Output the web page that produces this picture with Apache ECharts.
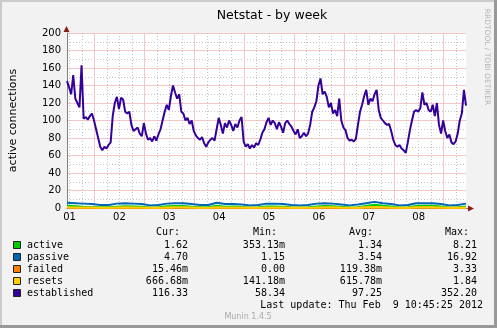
<!DOCTYPE html>
<html><head><meta charset="utf-8">
<script src="https://cdn.jsdelivr.net/npm/echarts@6/dist/echarts.min.js"></script>
<style>html,body{margin:0;padding:0;background:#f2f2f2}#c{width:497px;height:328px}</style>
</head><body><div id="c"></div>
<script>
// ---- data ----
const startMinute = 645;          // Feb 1 10:45
const stepMinutes = 15;           // category resolution
const nCats = 769;                // 8 days of 15-minute slots
const dayLabels = ['01','02','03','04','05','06','07','08'];
const yTickValues = [0,20,40,60,80,100,120,140,160,180,200];

// established: hourly samples from Feb 1 10:45
const established = [145,138,130,152,125,120,115,163,102,104,
 101,105,108,100,90,80,70,66,70,68,
 72,75,105,120,127,113,126,124,110,108,
 110,95,88,90,92,85,82,97,85,78,
 80,76,82,77,84,90,100,110,118,112,
 128,140,132,125,130,110,108,100,103,96,
 100,88,83,80,78,81,74,70,75,78,
 80,77,90,103,95,85,97,92,100,95,
 88,96,92,100,104,76,70,73,68,72,
 69,74,72,78,86,90,98,103,95,100,
 97,90,98,93,86,97,100,96,93,88,
 84,90,80,82,86,82,85,95,110,115,
 122,140,148,130,133,127,115,120,108,112,
 105,125,100,92,89,80,77,78,76,79,
 95,110,118,128,135,118,125,122,130,135,
 112,103,100,97,95,96,88,78,72,70,
 72,68,66,63,75,89,100,110,112,110,
 114,132,118,120,112,110,118,105,120,95,
 85,100,88,80,84,75,73,76,85,100,
 108,135,117];
// small series: 4-hourly samples from Feb 1 10:45
const passive = [6,5.5,5,4.5,3.5,3.5,5,5.5,5,4.5,3,3.5,5,5.5,5.5,4.5,3.5,3.5,6,4.5,4.5,4,3,3.5,5,5,4.5,3.5,3,3.5,5,5.5,5,4,3,4,5.5,7,5.5,4.5,3,3.5,5.5,5.5,5.5,4.5,3,3.5,5];
const active = [2.5,2,1.5,1.2,0.8,0.8,1.5,2,1.8,1.5,0.7,0.9,2,2.3,2.2,1.5,0.8,0.8,2.5,1.5,1.6,1.2,0.7,0.8,1.8,1.8,1.5,0.8,0.6,0.8,1.8,2.2,2,1.3,0.7,1,2.4,3.8,2.5,1.6,0.7,0.9,2.3,2.5,2.6,1.6,0.7,0.9,1.6];
const resets = [0.8,0.7,0.6,0.5,0.3,0.3,0.6,0.8,0.7,0.6,0.3,0.4,0.7,0.9,0.8,0.6,0.3,0.3,0.9,0.6,0.6,0.5,0.3,0.3,0.7,0.7,0.6,0.3,0.2,0.3,0.7,0.9,0.8,0.5,0.3,0.4,0.9,1.2,0.9,0.6,0.3,0.4,0.8,0.9,0.9,0.6,0.3,0.4,0.7];
const failed = [0.2,0.1,0.1,0.05,0,0,0.1,0.2,0.1,0.1,0,0,0.1,0.2,0.2,0.1,0,0,0.3,0.1,0.1,0.1,0,0,0.1,0.1,0.1,0,0,0,0.1,0.2,0.1,0.1,0,0,0.2,0.3,0.2,0.1,0,0,0.2,0.2,0.2,0.1,0,0,0.02];

const legendNames = ['active','passive','failed','resets','established'];
const legendColors = ['#00CC00','#0066B3','#FF8000','#FFCC00','#330099'];
const curVals = ['1.62','4.70','15.46m','666.68m','116.33'];
const minVals = ['353.13m','1.15','0.00','141.18m','58.34'];
const avgVals = ['1.34','3.54','119.38m','615.78m','97.25'];
const maxVals = ['8.21','16.92','3.33','1.84','352.20'];
const lastUpdate = 'Last update: Thu Feb  9 10:45:25 2012';

// ---- build ----
const cats = [];
for (let k = 0; k < nCats; k++) {
  const m = startMinute + k * stepMinutes;
  const d = Math.floor(m / 1440) + 1, hh = Math.floor((m % 1440) / 60), mm = m % 60;
  cats.push('Feb ' + d + ' ' + String(hh).padStart(2,'0') + ':' + String(mm).padStart(2,'0'));
}
const minuteOf = k => startMinute + k * stepMinutes;
const hourly = arr => arr.map((v, i) => [i * 4, v]);
const fourHourly = arr => arr.map((v, i) => [i * 16, v]);

const G = {left: 66, right: 31, top: 33, bottom: 120};
const W = 497, H = 328;
const px0 = G.left, px1 = W - G.right, py0 = G.top, py1 = H - G.bottom;

const chart = echarts.init(document.getElementById('c'), null, {renderer: 'canvas'});
const mono = '"DejaVu Sans Mono", monospace';
const sans = '"DejaVu Sans", sans-serif';
const gridGrey = '#c4c4c4';
const gridRed = '#f4c8c8';

function txt(text, x, y, align, opts) {
  opts = opts || {};
  return {type: 'text', x: x, y: y, rotation: opts.rotation || 0, z: 100,
    style: {text: text, font: opts.font || ('10px ' + mono), fill: opts.fill || '#000',
      align: align, verticalAlign: 'middle', textAlign: align, textVerticalAlign: 'middle'}};
}

const graphics = [
  {type: 'rect', shape: {x: 0, y: 0, width: W, height: 2}, style: {fill: '#cbcbcb'}},
  {type: 'rect', shape: {x: 0, y: 0, width: 2, height: H}, style: {fill: '#cbcbcb'}},
  {type: 'rect', shape: {x: W - 3, y: 0, width: 3, height: H}, style: {fill: '#999999'}},
  {type: 'rect', shape: {x: 0, y: H - 3, width: W, height: 3}, style: {fill: '#999999'}},
  {type: 'line', shape: {x1: px1, y1: py1 + 0.5, x2: px1 + 3, y2: py1 + 0.5}, style: {stroke: '#808080', lineWidth: 1}, z: 50},
  {type: 'polygon', shape: {points: [[px0 + 0.5, py0 - 7], [px0 - 2.5, py0 - 1], [px0 + 3.5, py0 - 1]]}, style: {fill: '#8b1a1a'}, z: 60},
  {type: 'polygon', shape: {points: [[px1 + 8, py1 + 0.5], [px1 + 2, py1 - 2.5], [px1 + 2, py1 + 3.5]]}, style: {fill: '#8b1a1a'}, z: 60},
  txt('RRDTOOL / TOBI OETIKER', 487, 57, 'center', {rotation: -Math.PI / 2, font: '7.5px ' + sans, fill: '#b4b4b4'}),
  txt('Munin 1.4.5', 248, 317, 'center', {font: '8px ' + sans, fill: '#aaaaaa'}),
  txt('Cur:', 180, 232, 'right'),
  txt('Min:', 277, 232, 'right'),
  txt('Avg:', 373, 232, 'right'),
  txt('Max:', 469, 232, 'right'),
  txt(lastUpdate, 483, 305, 'right')
];
legendNames.forEach((n, i) => {
  const y = 245 + i * 12;
  graphics.push({type: 'rect', shape: {x: 13.5, y: y - 3.5, width: 7, height: 7}, style: {fill: legendColors[i], stroke: '#222', lineWidth: 1}, z: 100});
  graphics.push(txt(n, 27, y, 'left'));
  graphics.push(txt(curVals[i], 188, y, 'right'));
  graphics.push(txt(minVals[i], 285, y, 'right'));
  graphics.push(txt(avgVals[i], 382, y, 'right'));
  graphics.push(txt(maxVals[i], 477, y, 'right'));
});

function lineSeries(name, data, color) {
  return {name: name, type: 'line', data: data, xAxisIndex: 0, yAxisIndex: 0, symbol: 'none',
    lineStyle: {color: color, width: 2}, itemStyle: {color: color}, animation: false};
}

chart.setOption({
  backgroundColor: '#f2f2f2',
  animation: false,
  title: {text: 'Netstat - by week', left: 267, top: 4, textAlign: 'center',
    textStyle: {fontFamily: sans, fontSize: 12.5, fontWeight: 'normal', color: '#000'}},
  grid: {left: G.left, right: G.right, top: G.top, bottom: G.bottom, show: true, backgroundColor: '#ffffff', borderWidth: 0, containLabel: false},
  xAxis: [
    {type: 'category', data: cats, boundaryGap: false, position: 'bottom',
      axisLine: {show: true, lineStyle: {color: '#808080', width: 1}},
      axisTick: {show: false}, axisLabel: {show: false},
      splitLine: {show: true, interval: (k) => minuteOf(k) % 360 === 0 && minuteOf(k) % 1440 !== 0,
        lineStyle: {color: gridGrey, width: 1, type: [1, 2]}}},
    {type: 'category', data: cats, boundaryGap: false, position: 'bottom',
      axisLine: {show: false}, axisTick: {show: false},
      axisLabel: {show: true, interval: (k) => minuteOf(k) % 1440 === 720, margin: 4,
        fontFamily: sans, fontSize: 10, color: '#000',
        formatter: (v, k) => dayLabels[Math.floor(minuteOf(k) / 1440)] || ''},
      splitLine: {show: true, interval: (k) => minuteOf(k) % 1440 === 0,
        lineStyle: {color: gridRed, width: 1, type: 'solid'}}}
  ],
  yAxis: [
    {type: 'value', min: 0, max: 200, interval: 10, position: 'left',
      name: 'active connections', nameLocation: 'middle', nameRotate: 90, nameGap: 48,
      nameTextStyle: {fontFamily: sans, fontSize: 11, color: '#000'},
      axisLine: {show: true, lineStyle: {color: '#808080', width: 1}},
      axisTick: {show: false},
      axisLabel: {margin: 6, fontFamily: sans, fontSize: 10, color: '#000',
        formatter: v => yTickValues.indexOf(v) >= 0 ? String(v) : ''},
      splitLine: {show: true, lineStyle: {color: gridGrey, width: 1, type: [1, 2]}}},
    {type: 'value', min: 0, max: 200, interval: 20, position: 'left',
      axisLine: {show: false}, axisTick: {show: false}, axisLabel: {show: false},
      splitLine: {show: true, lineStyle: {color: gridRed, width: 1, type: 'solid'}}}
  ],
  series: [
    lineSeries('active', fourHourly(active), legendColors[0]),
    lineSeries('passive', fourHourly(passive), legendColors[1]),
    lineSeries('failed', fourHourly(failed), legendColors[2]),
    lineSeries('resets', fourHourly(resets), legendColors[3]),
    lineSeries('established', hourly(established), legendColors[4])
  ],
  graphic: graphics
});
</script></body></html>
